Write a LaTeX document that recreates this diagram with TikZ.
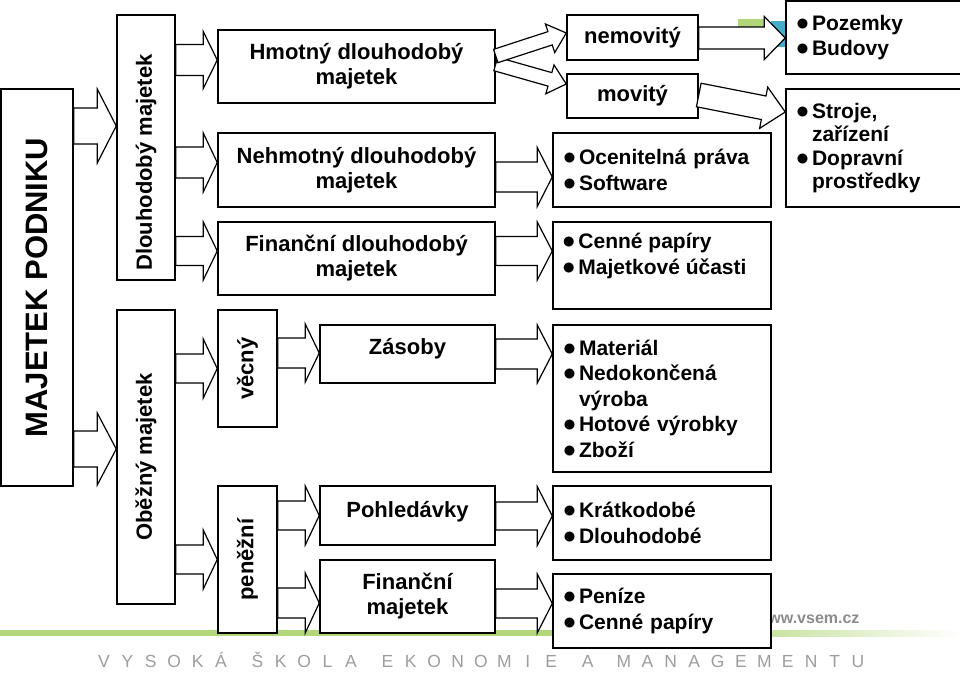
\documentclass[tikz,border=0pt]{standalone}
\usepackage{fontspec}
\setmainfont{Liberation Sans}
\usetikzlibrary{positioning}
\usetikzlibrary{calc}

\definecolor{vsemgreen}{RGB}{178,214,122}
\definecolor{vsemteal}{RGB}{70,172,200}
\definecolor{footgray}{RGB}{140,140,140}

\newcommand{\itm}{\makebox[14pt][l]{\hspace*{-2pt}\scalebox{1.25}{$\bullet$}}}
\newcommand{\blkarrow}[5]{%
  \coordinate (ba0) at (#1);
  \coordinate (ba1) at (#2);
  \coordinate (bah) at ($(ba1)!#5pt!(ba0)$);
  \draw[blkar] ($(ba0)!#3pt!90:(ba1)$) -- ($(bah)!#3pt!90:(ba1)$) -- ($(bah)!#4pt!90:(ba1)$) -- (ba1)
    -- ($(bah)!#4pt!-90:(ba1)$) -- ($(bah)!#3pt!-90:(ba1)$) -- ($(ba0)!#3pt!-90:(ba1)$) -- cycle;
}

\begin{document}
\begin{tikzpicture}[x=1pt,y=-1pt,
  box/.style={draw, line width=1.5pt, fill=white, inner sep=0pt},
  hd/.style={font=\fontsize{22}{25}\selectfont\bfseries, align=center},
  lst/.style={font=\fontsize{21}{25.5}\selectfont\bfseries, align=left, inner xsep=12pt, inner ysep=0pt},
  blkar/.style={draw, fill=white, line width=1.2pt},
  foot/.style={font=\fontsize{17.5}{20}\selectfont, text=footgray!85, anchor=base, inner sep=0pt}]
\useasboundingbox (0,0) rectangle (960,673);
\clip (0,0) rectangle (960,673);

\fill[vsemgreen] (738,19) rectangle (768,27);
\fill[vsemteal] (771,21) rectangle (786,47);
\fill[vsemgreen] (0,630) rectangle (690,636);
\shade[left color=vsemgreen, right color=white] (690,630) rectangle (960,636);
\foreach \x/\wrd [count=\j] in {104/{V,Y,S,O,K,Á},257.4/{Š,K,O,L,A},387.4/{E,K,O,N,O,M,I,E},587.6/{A},624/{M,A,N,A,G,E,M,E,N,T,U}}
  \foreach \c [count=\i from 0] in \wrd
    \node[foot] (ft\j-\i) at (\x+\i*23.4,667) {\c};
\node[font=\fontsize{16}{18}\selectfont\bfseries, text=footgray, anchor=base east] (www) at (863,623) {www.vsem.cz};

\node[box, minimum width=72, minimum height=397, font=\fontsize{31}{36}\selectfont\bfseries] (podnik) at (37,287.5) {\rotatebox{90}{MAJETEK PODNIKU}};
\node[box, minimum width=58, minimum height=265] (dlouh) at (146,147.5) {};
\node[hd, rotate=90] (dlouhT) at (146,162.5) {Dlouhodobý majetek};
\node[box, hd, minimum width=58, minimum height=294] (obez) at (146,457) {\rotatebox{90}{Oběžný majetek}};
\node[box, hd, minimum width=59, minimum height=117] (vecny) at (247.5,368.5) {\rotatebox{90}{věcný}};
\node[box, hd, minimum width=59, minimum height=147] (penez) at (247.5,559.5) {\rotatebox{90}{peněžní}};

\node[box, hd, minimum width=277, minimum height=73] (hmot) at (356.5,66.5) {Hmotný dlouhodobý\\majetek};
\node[box, hd, minimum width=277, minimum height=74] (nehmot) at (356.5,170) {Nehmotný dlouhodobý\\majetek};
\node[box, hd, minimum width=277, minimum height=73] (findl) at (356.5,258.5) {Finanční dlouhodobý\\majetek};
\node[box, minimum width=175, minimum height=58] (zasoby) at (407.5,354) {};
\node[hd, anchor=base] (zasobyT) at (407.5,354) {Zásoby};
\node[box, minimum width=175, minimum height=59] (pohled) at (407.5,515.5) {};
\node[hd, anchor=base] (pohledT) at (407.5,517) {Pohledávky};
\node[box, hd, minimum width=175, minimum height=73] (finmaj) at (407.5,596.5) {Finanční\\majetek};

\node[box, hd, minimum width=131, minimum height=45] (nemov) at (632.5,37.5) {nemovitý};
\node[box, hd, minimum width=131, minimum height=44] (mov) at (632.5,96) {movitý};

\node[box, lst, text width=194, minimum height=74] (ocen) at (662,170) {\itm Ocenitelná práva\\\itm Software};
\node[box, minimum width=218, minimum height=87] (cenne) at (662,265.5) {};
\node[lst, anchor=base west] (cenneL) at ($(cenne.north west)+(0,53)$) {\itm Cenné papíry\\\itm Majetkové účasti};
\node[box, lst, text width=194, minimum height=147] (mater) at (662,398.5) {\itm Materiál\\\itm Nedokončená\\\hspace*{14pt}výroba\\\itm Hotové výrobky\\\itm Zboží};
\node[box, lst, text width=194, minimum height=74] (kratk) at (662,523) {\itm Krátkodobé\\\itm Dlouhodobé};
\node[box, lst, text width=194, minimum height=74] (penize) at (662,611) {\itm Peníze\\\itm Cenné papíry};

\node[box, lst, text width=152, minimum height=73] (pozem) at (874,37.5) {\itm Pozemky\\\itm Budovy};
\node[box, lst, text width=152, minimum height=118, font=\fontsize{21}{23.5}\selectfont\bfseries] (stroje) at (874,148) {\itm Stroje,\\\hspace*{14pt}zařízení\\\itm Dopravní\\\hspace*{14pt}prostředky};

\blkarrow{podnik.east |- 0,126}{dlouh.west |- 0,126}{18}{37}{19}
\blkarrow{podnik.east |- 0,449}{obez.west |- 0,449}{18}{36}{19}
\blkarrow{dlouh.east |- 0,60}{hmot.west |- 0,60}{15.5}{28.5}{14}
\blkarrow{dlouh.east |- 0,162.5}{nehmot.west |- 0,162.5}{15.5}{29.5}{14}
\blkarrow{dlouh.east |- 0,251}{findl.west |- 0,251}{14.5}{29}{14}
\blkarrow{obez.east |- 0,368.5}{vecny.west |- 0,368.5}{14.5}{29.5}{14}
\blkarrow{obez.east |- 0,559.5}{penez.west |- 0,559.5}{14.5}{29.5}{14}
\blkarrow{vecny.east |- 0,353}{zasoby.west |- 0,353}{15}{29}{14}
\blkarrow{penez.east |- 0,515.5}{pohled.west |- 0,515.5}{14.5}{29.5}{14}
\blkarrow{penez.east |- 0,603}{finmaj.west |- 0,603}{15}{30}{14}
\blkarrow{hmot.east |- 0,64}{mov.west |- 0,84}{7}{15}{17}
\blkarrow{hmot.east |- 0,56}{nemov.west |- 0,33}{7}{15}{17}
\blkarrow{nemov.east |- 0,38}{pozem.west |- 0,38}{11}{21.5}{21}
\blkarrow{mov.east |- 0,95}{stroje.west |- 0,112}{12}{21}{22}
\blkarrow{nehmot.east |- 0,177}{ocen.west |- 0,177}{15}{29.5}{15}
\blkarrow{findl.east |- 0,251}{cenne.west |- 0,251}{14.5}{29}{15}
\blkarrow{zasoby.east |- 0,354}{mater.west |- 0,354}{15}{29}{15}
\blkarrow{pohled.east |- 0,516}{kratk.west |- 0,516}{14}{29.5}{15}
\blkarrow{finmaj.east |- 0,603.5}{penize.west |- 0,603.5}{14.5}{29.5}{15}
\end{tikzpicture}
\end{document}
